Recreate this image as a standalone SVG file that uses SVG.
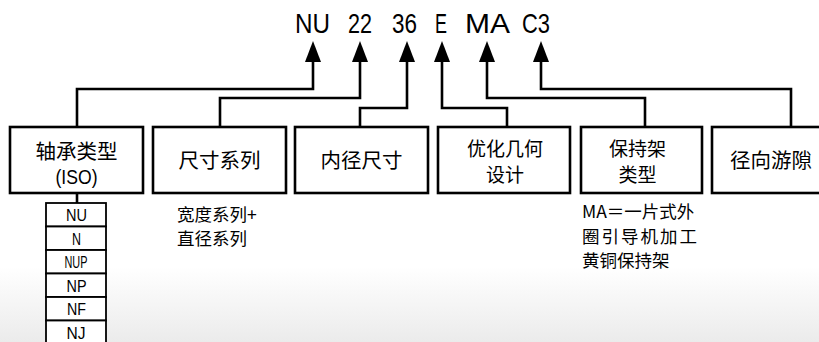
<svg xmlns="http://www.w3.org/2000/svg" width="819" height="342" viewBox="0 0 819 342">
<defs>
<linearGradient id="bg" x1="0" y1="0" x2="0" y2="1">
<stop offset="0" stop-color="#ffffff"/>
<stop offset="0.78" stop-color="#ffffff"/>
<stop offset="1" stop-color="#ebebeb"/>
</linearGradient>
<marker id="arr" markerUnits="userSpaceOnUse" markerWidth="22" markerHeight="18" viewBox="0 0 22 18" refX="1" refY="9" orient="auto">
<path d="M0,1 L21,9 L0,17 Z" fill="#000"/>
</marker>
<style>
.box{fill:#fff;stroke:#000;stroke-width:2.6}
.cell{fill:#fff;stroke:#000;stroke-width:1.8}
.con{fill:none;stroke:#000;stroke-width:2.6}
.cn{font-family:"Noto Sans CJK SC","Noto Sans",sans-serif;font-size:20.5px;fill:#000;text-anchor:middle}
.cn2{font-family:"Noto Sans CJK SC","Noto Sans",sans-serif;font-size:19px;fill:#000;text-anchor:middle}
.cd{font-family:"Liberation Sans",Arial,sans-serif;fill:#000;text-anchor:middle}
.note{font-family:"Noto Sans CJK SC","Noto Sans",sans-serif;font-size:17.5px;fill:#000}
</style>
</defs>
<rect x="0" y="0" width="819" height="342" fill="url(#bg)"/>

<g id="code">
<text class="cd" font-size="28" x="312.5" y="33" textLength="35" lengthAdjust="spacingAndGlyphs">NU</text>
<text class="cd" font-size="28" x="360" y="33" textLength="24" lengthAdjust="spacingAndGlyphs">22</text>
<text class="cd" font-size="28" x="404.5" y="33" textLength="25" lengthAdjust="spacingAndGlyphs">36</text>
<text class="cd" font-size="28" x="441" y="33" textLength="12" lengthAdjust="spacingAndGlyphs">E</text>
<text class="cd" font-size="28" x="487.5" y="33" textLength="45" lengthAdjust="spacingAndGlyphs">MA</text>
<text class="cd" font-size="28" x="536" y="33" textLength="28" lengthAdjust="spacingAndGlyphs">C3</text>
</g>

<g id="connectors">
<path class="con" d="M77,127 V89 H313 V61" marker-end="url(#arr)"/>
<path class="con" d="M220,127 V98 H360 V61" marker-end="url(#arr)"/>
<path class="con" d="M360,127 V108 H407 V61" marker-end="url(#arr)"/>
<path class="con" d="M507,127 V108 H442 V61" marker-end="url(#arr)"/>
<path class="con" d="M645,127 V98 H487 V61" marker-end="url(#arr)"/>
<path class="con" d="M791,127 V89 H541 V61" marker-end="url(#arr)"/>
<path class="con" d="M77,193 V203"/>
</g>

<g id="n-type">
<rect class="box" x="10" y="127" width="133" height="66"/>
<text class="cn" x="76.5" y="159">轴承类型</text>
<text class="cd" font-size="21" x="76.5" y="184" textLength="42" lengthAdjust="spacingAndGlyphs">(ISO)</text>
</g>
<g id="n-series">
<rect class="box" x="153" y="127" width="133" height="66"/>
<text class="cn" x="219.5" y="168">尺寸系列</text>
</g>
<g id="n-bore">
<rect class="box" x="295" y="127" width="133" height="66"/>
<text class="cn" x="361.5" y="168">内径尺寸</text>
</g>
<g id="n-design">
<rect class="box" x="438" y="127" width="132" height="66"/>
<text class="cn2" x="505" y="155.5">优化几何<tspan x="505" dy="26.5">设计</tspan></text>
</g>
<g id="n-cage">
<rect class="box" x="581" y="127" width="121" height="66"/>
<text class="cn2" x="637.5" y="155.5">保持架<tspan x="637.5" dy="26.5">类型</tspan></text>
</g>
<g id="n-clearance">
<rect class="box" x="712" y="127" width="140" height="66"/>
<text class="cn" x="771" y="168">径向游隙</text>
</g>

<g id="n-list">
<rect class="cell" x="46" y="203" width="60" height="23.5"/>
<rect class="cell" x="46" y="226.5" width="60" height="23.5"/>
<rect class="cell" x="46" y="250" width="60" height="23.5"/>
<rect class="cell" x="46" y="273.5" width="60" height="23.5"/>
<rect class="cell" x="46" y="297" width="60" height="23.5"/>
<rect class="cell" x="46" y="320.5" width="60" height="23.5"/>
<text class="cd" font-size="17" x="76.5" y="221" textLength="21" lengthAdjust="spacingAndGlyphs">NU</text>
<text class="cd" font-size="17" x="76.5" y="244.5" textLength="9" lengthAdjust="spacingAndGlyphs">N</text>
<text class="cd" font-size="17" x="76" y="268" textLength="23" lengthAdjust="spacingAndGlyphs">NUP</text>
<text class="cd" font-size="17" x="76.5" y="291.5" textLength="20" lengthAdjust="spacingAndGlyphs">NP</text>
<text class="cd" font-size="17" x="76.5" y="315" textLength="19" lengthAdjust="spacingAndGlyphs">NF</text>
<text class="cd" font-size="17" x="76" y="338.5" textLength="19" lengthAdjust="spacingAndGlyphs">NJ</text>
</g>

<g id="note-series">
<text class="note" x="177" y="221">宽度系列+<tspan x="177" dy="24">直径系列</tspan></text>
</g>
<g id="note-cage">
<text class="note" x="582" y="218">MA＝一片式外<tspan x="582" dy="25" letter-spacing="2">圈引导机加工</tspan><tspan x="582" dy="24" letter-spacing="0">黄铜保持架</tspan></text>
</g>
</svg>
